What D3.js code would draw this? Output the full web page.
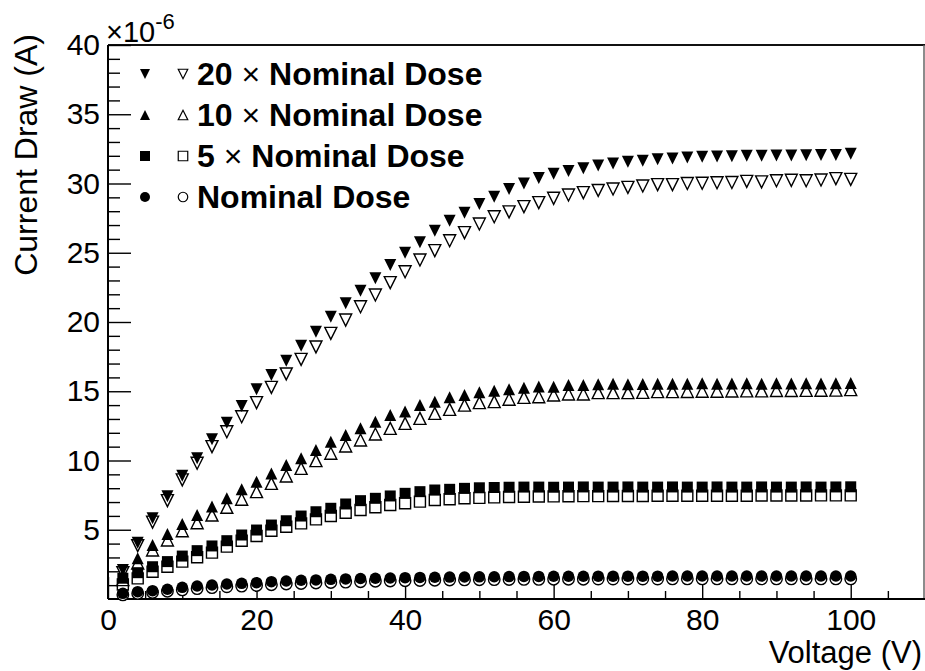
<!DOCTYPE html>
<html>
<head>
<meta charset="utf-8">
<script src="https://cdn.jsdelivr.net/npm/d3@7"></script>
<style>
  body { margin: 0; background: #fff; }
  text { font-family: "Liberation Sans", Arial, Helvetica, sans-serif; fill: #000; }
</style>
</head>
<body>
<svg id="chart" width="925" height="671"></svg>
<script>
// voltage steps (V)
var voltage = [2, 4, 6, 8, 10, 12, 14, 16, 18, 20, 22, 24, 26, 28, 30, 32, 34, 36, 38, 40,
  42, 44, 46, 48, 50, 52, 54, 56, 58, 60, 62, 64, 66, 68, 70, 72, 74, 76, 78, 80,
  82, 84, 86, 88, 90, 92, 94, 96, 98, 100];

// current draw in units of 1e-6 A
var dose20Filled = [2.1, 4.07, 5.83, 7.41, 8.9, 10.16, 11.53, 12.73, 13.94, 15.14, 16.17, 17.2, 18.29, 19.3, 20.38, 21.35, 22.26, 23.15, 24.12, 25.0,
  25.75, 26.59, 27.31, 27.89, 28.52, 29.05, 29.6, 30.0, 30.4, 30.7, 30.9, 31.1, 31.3, 31.45, 31.57, 31.65, 31.75, 31.8, 31.88, 31.93,
  31.95, 31.97, 32.0, 32.0, 32.02, 32.03, 32.04, 32.05, 32.06, 32.15];
var dose20Open = [1.9, 3.85, 5.55, 7.1, 8.6, 9.8, 11.0, 12.08, 13.16, 14.18, 15.28, 16.25, 17.3, 18.2, 19.18, 20.14, 21.1, 21.95, 22.84, 23.63,
  24.48, 25.15, 25.87, 26.45, 27.08, 27.6, 27.95, 28.33, 28.62, 28.93, 29.17, 29.34, 29.5, 29.6, 29.72, 29.82, 29.92, 29.92, 30.0, 30.02,
  30.05, 30.07, 30.15, 30.12, 30.2, 30.23, 30.2, 30.25, 30.35, 30.3];
var dose10Filled = [1.75, 2.94, 3.9, 4.69, 5.42, 6.06, 6.67, 7.27, 7.92, 8.47, 9.07, 9.67, 10.16, 10.76, 11.36, 11.84, 12.32, 12.8, 13.29, 13.53,
  14.0, 14.25, 14.56, 14.73, 14.92, 15.04, 15.14, 15.26, 15.35, 15.33, 15.45, 15.45, 15.5, 15.55, 15.5, 15.52, 15.55, 15.55, 15.55, 15.57,
  15.55, 15.56, 15.57, 15.55, 15.57, 15.56, 15.57, 15.56, 15.57, 15.6];
var dose10Open = [1.4, 2.6, 3.54, 4.26, 4.93, 5.51, 6.06, 6.62, 7.2, 7.75, 8.35, 8.88, 9.43, 9.99, 10.52, 11.05, 11.48, 11.91, 12.32, 12.68,
  13.04, 13.4, 13.69, 14.0, 14.18, 14.25, 14.42, 14.56, 14.6, 14.73, 14.8, 14.8, 14.9, 14.9, 14.9, 14.92, 14.97, 14.97, 14.98, 15.0,
  15.0, 15.02, 15.03, 15.03, 15.05, 15.05, 15.06, 15.07, 15.08, 15.12];
var dose5Filled = [1.5, 1.9, 2.33, 2.7, 3.1, 3.49, 3.83, 4.21, 4.62, 4.98, 5.34, 5.65, 5.99, 6.3, 6.55, 6.86, 7.1, 7.27, 7.44, 7.63,
  7.75, 7.87, 7.92, 7.99, 8.03, 8.05, 8.07, 8.08, 8.08, 8.07, 8.08, 8.09, 8.08, 8.08, 8.09, 8.08, 8.08, 8.09, 8.08, 8.08,
  8.09, 8.08, 8.08, 8.09, 8.08, 8.08, 8.09, 8.08, 8.09, 8.1];
var dose5Open = [1.05, 1.49, 1.97, 2.33, 2.7, 3.01, 3.35, 3.78, 4.21, 4.55, 4.93, 5.22, 5.46, 5.75, 5.99, 6.23, 6.43, 6.62, 6.79, 6.91,
  7.03, 7.15, 7.2, 7.27, 7.3, 7.34, 7.36, 7.38, 7.4, 7.41, 7.42, 7.43, 7.43, 7.44, 7.44, 7.44, 7.45, 7.45, 7.45, 7.46,
  7.46, 7.46, 7.46, 7.47, 7.47, 7.47, 7.47, 7.48, 7.48, 7.48];
var nominalFilled = [0.41, 0.53, 0.6, 0.7, 0.84, 0.94, 1.01, 1.08, 1.13, 1.18, 1.25, 1.3, 1.35, 1.38, 1.42, 1.45, 1.48, 1.5, 1.52, 1.54,
  1.56, 1.57, 1.58, 1.59, 1.6, 1.61, 1.62, 1.63, 1.63, 1.64, 1.64, 1.64, 1.65, 1.65, 1.65, 1.65, 1.65, 1.66, 1.66, 1.66,
  1.66, 1.66, 1.66, 1.66, 1.66, 1.66, 1.66, 1.66, 1.66, 1.66];
var nominalOpen = [0.3, 0.4, 0.48, 0.56, 0.66, 0.75, 0.82, 0.88, 0.93, 0.98, 1.03, 1.08, 1.12, 1.16, 1.19, 1.22, 1.25, 1.28, 1.3, 1.32,
  1.34, 1.35, 1.37, 1.38, 1.39, 1.4, 1.41, 1.42, 1.42, 1.43, 1.43, 1.43, 1.44, 1.44, 1.44, 1.44, 1.44, 1.45, 1.45, 1.45,
  1.45, 1.45, 1.45, 1.45, 1.45, 1.45, 1.45, 1.45, 1.45, 1.45];

var legendLabels = ["20", "10", "5", ""];
var legendShapes = ["down", "up", "square", "circle"];

var svg = d3.select("#chart");

var x = d3.scaleLinear().domain([0, 110]).range([108, 925]);
var y = d3.scaleLinear().domain([0, 40]).range([599, 45]);

// marker path for a shape of size s centred on 0,0
function markerPath(shape, s) {
  var h = s / 2;
  if (shape == "down") return "M" + (-h) + "," + (-h) + "L" + h + "," + (-h) + "L0," + h + "Z";
  if (shape == "up") return "M" + (-h) + "," + h + "L" + h + "," + h + "L0," + (-h) + "Z";
  if (shape == "square") return "M" + (-h) + "," + (-h) + "h" + s + "v" + s + "h" + (-s) + "Z";
  var p = d3.path();
  p.arc(0, 0, h, 0, 2 * Math.PI);
  return p.toString();
}

var series = [
  { values: nominalOpen, shape: "circle", filled: false, size: 11.5 },
  { values: dose5Open, shape: "square", filled: false, size: 11 },
  { values: dose10Open, shape: "up", filled: false, size: 12 },
  { values: dose20Open, shape: "down", filled: false, size: 12 },
  { values: nominalFilled, shape: "circle", filled: true, size: 11.5 },
  { values: dose5Filled, shape: "square", filled: true, size: 11 },
  { values: dose10Filled, shape: "up", filled: true, size: 12 },
  { values: dose20Filled, shape: "down", filled: true, size: 12 }
];

// frame: top and right
svg.append("line").attr("x1", 108).attr("x2", 925).attr("y1", 45).attr("y2", 45)
  .attr("stroke", "#111").attr("stroke-width", 2);
svg.append("line").attr("x1", 924).attr("x2", 924).attr("y1", 45).attr("y2", 599)
  .attr("stroke", "#666").attr("stroke-width", 1.5);

// x axis
var xMajor = d3.axisBottom(x).tickValues([0, 20, 40, 60, 80, 100]).tickSize(-22).tickPadding(10)
  .tickFormat(d3.format("d"));
var xMinor = d3.axisBottom(x).tickValues(d3.range(5, 110, 5).filter(d => d % 20 != 0))
  .tickSize(-8).tickFormat("");
var gxMinor = svg.append("g").attr("transform", "translate(0,599)").call(xMinor);
var gx = svg.append("g").attr("transform", "translate(0,599)").call(xMajor);
gxMinor.select(".domain").remove();
gx.select(".domain").remove();

// y axis
var yMajor = d3.axisLeft(y).tickValues([5, 10, 15, 20, 25, 30, 35, 40]).tickSize(-23).tickPadding(8)
  .tickFormat(d3.format("d"));
var yMinor = d3.axisLeft(y).tickValues(d3.range(1, 40, 1).filter(d => d % 5 != 0))
  .tickSize(-12).tickFormat("");
var gyMinor = svg.append("g").attr("transform", "translate(108,0)").call(yMinor);
var gy = svg.append("g").attr("transform", "translate(108,0)").call(yMajor);
gyMinor.select(".domain").remove();
gy.select(".domain").remove();

svg.selectAll(".tick line").attr("stroke", "#000").attr("stroke-width", 1.4);
svg.selectAll(".tick text").style("font-size", "30px").attr("fill", "#000")
  .style("font-family", "'Liberation Sans', Arial, sans-serif");

// axis lines
svg.append("line").attr("x1", 108).attr("x2", 925).attr("y1", 599).attr("y2", 599)
  .attr("stroke", "#000").attr("stroke-width", 2);
svg.append("line").attr("x1", 108).attr("x2", 108).attr("y1", 45).attr("y2", 599)
  .attr("stroke", "#000").attr("stroke-width", 2);

// titles
svg.append("text").attr("x", 922).attr("y", 663).attr("text-anchor", "end")
  .style("font-size", "31px").text("Voltage (V)");
svg.append("text").attr("transform", "translate(37,34) rotate(-90)").attr("text-anchor", "end")
  .style("font-size", "32px").text("Current Draw (A)");

var expo = svg.append("text").attr("x", 106).attr("y", 42).style("font-size", "29px");
expo.append("tspan").text("\u00d710");
expo.append("tspan").attr("dy", -13).style("font-size", "22px").text("-6");

// data points
var markers = svg.append("g");
series.forEach(function(s) {
  markers.append("g").selectAll("path")
    .data(s.values)
    .enter().append("path")
    .attr("transform", (d, i) => "translate(" + x(voltage[i]) + "," + y(d) + ")")
    .attr("d", markerPath(s.shape, s.size))
    .attr("fill", s.filled ? "#000" : "#fff")
    .attr("stroke", "#000")
    .attr("stroke-width", s.filled ? 0 : 1.4);
});

// legend
var rowY = [74, 115, 156, 197];
legendShapes.forEach(function(shape, i) {
  var g = svg.append("g");
  g.append("path").attr("transform", "translate(145," + rowY[i] + ")")
    .attr("d", markerPath(shape, 10)).attr("fill", "#000");
  g.append("path").attr("transform", "translate(183," + rowY[i] + ")")
    .attr("d", markerPath(shape, 9.5)).attr("fill", "#fff").attr("stroke", "#000").attr("stroke-width", 1.2);
  var t = g.append("text").attr("x", 197).attr("y", rowY[i] + 11)
    .style("font-size", "32px").style("font-weight", "bold");
  if (legendLabels[i] != "") {
    t.append("tspan").text(legendLabels[i] + " ");
    t.append("tspan").style("font-weight", "normal").text("\u00d7");
    t.append("tspan").text(" Nominal Dose");
  } else {
    t.append("tspan").text("Nominal Dose");
  }
});
</script>
</body>
</html>
